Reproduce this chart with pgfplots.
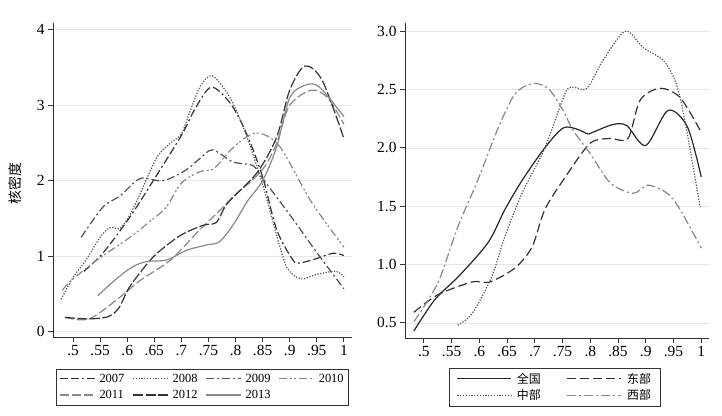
\documentclass[border=0pt]{standalone}
\usepackage{fontspec}
\setmainfont{Liberation Serif}
\newfontfamily\cjk{Noto Sans CJK SC}
\usepackage{pgfplots}
\pgfplotsset{compat=1.18}

\definecolor{axc}{HTML}{333333}
\definecolor{gridc}{HTML}{E6E6E6}
\definecolor{dk}{HTML}{333333}
\definecolor{md}{HTML}{505050}
\definecolor{lt}{HTML}{888888}

\pgfplotsset{
  stata/.style={
    scale only axis,
    axis x line*=bottom, axis y line*=left,
    axis line style={axc, line width=0.8bp, -},
    tick align=outside, major tick length=5bp,
    tick style={axc, line width=0.8bp},
    ymajorgrids, grid style={gridc, line width=0.6bp},
    xtick={0.5,0.55,0.6,0.65,0.7,0.75,0.8,0.85,0.9,0.95,1},
    xticklabels={.5,.55,.6,.65,.7,.75,.8,.85,.9,.95,1},
    ticklabel style={font=\fontsize{15.5}{16}\selectfont},
    /pgf/number format/assume math mode=true,
    legend cell align=left,
    legend style={draw=axc, line width=0.8bp, font=\fontsize{12.5}{13}\selectfont,
      inner ysep=3bp, row sep=2.5bp},
    every axis plot/.append style={line width=1.2bp, smooth, tension=0.5},
  },
}

\begin{document}
\begin{tikzpicture}
\useasboundingbox (0bp,0bp) rectangle (722bp,416bp);

% left panel: 2007-2013
\begin{axis}[stata,
  at={(53bp,79bp)}, anchor=south west, width=299bp, height=314bp,
  xmin=0.463, xmax=1.015, ymin=-0.07, ymax=4.09,
  ytick={0,1,2,3,4}, yticklabels={0,1,2,3,4},
  ylabel={\cjk 核密度},
  ylabel style={font=\fontsize{14}{14}\selectfont, at={(axis description cs:-0.127,0.49)}, anchor=center},
  legend columns=4,
  legend image code/.code={\draw[#1] (0bp,0bp) -- (35bp,0bp);},
  legend style={at={(axis description cs:0.5,-0.159)}, anchor=center, inner xsep=3bp,
    /tikz/every odd column/.append style={column sep=2bp},
    /tikz/every even column/.append style={column sep=6bp}},
]
\addplot[dk, dash pattern=on 8bp off 3bp on 8bp off 3bp on 2bp off 3bp] coordinates {
 (0.52,0.80) (0.555,1.04) (0.605,1.52) (0.648,2.0) (0.70,2.6) (0.725,2.95) (0.755,3.24)
 (0.79,3.03) (0.82,2.63) (0.85,2.05) (0.876,1.35) (0.906,0.95) (0.918,0.91) (0.95,0.97)
 (0.98,1.04) (1.0,1.01)};
\addlegendentry{2007}
\addplot[md, dash pattern=on 1.2bp off 1.6bp] coordinates {
 (0.478,0.43) (0.50,0.72) (0.524,0.95) (0.55,1.25) (0.568,1.38) (0.587,1.37) (0.605,1.55)
 (0.624,1.83) (0.654,2.3) (0.68,2.5) (0.70,2.62) (0.715,2.9) (0.735,3.25) (0.757,3.39)
 (0.79,3.1) (0.82,2.6) (0.85,1.95) (0.875,1.3) (0.895,0.85) (0.92,0.70) (0.95,0.76)
 (0.985,0.80) (1.0,0.73)};
\addlegendentry{2008}
\addplot[md, dash pattern=on 8bp off 3bp on 2bp off 3bp] coordinates {
 (0.515,1.25) (0.555,1.65) (0.587,1.80) (0.624,2.03) (0.666,2.0) (0.708,2.14) (0.735,2.3)
 (0.758,2.41) (0.795,2.25) (0.832,2.2) (0.85,2.03) (0.9,1.55) (0.95,1.05) (1.0,0.57)};
\addlegendentry{2009}
\addplot[lt, dash pattern=on 8bp off 3bp on 2bp off 2bp on 2bp off 3bp] coordinates {
 (0.48,0.55) (0.50,0.70) (0.55,0.98) (0.605,1.25) (0.64,1.45) (0.672,1.65) (0.70,1.97)
 (0.734,2.12) (0.76,2.16) (0.79,2.4) (0.82,2.58) (0.845,2.63) (0.882,2.45) (0.94,1.72)
 (1.0,1.12)};
\addlegendentry{2010}
\addplot[lt, dash pattern=on 9bp off 3bp] coordinates {
 (0.485,0.19) (0.53,0.17) (0.587,0.46) (0.624,0.68) (0.68,0.95) (0.734,1.35) (0.77,1.6)
 (0.80,1.82) (0.83,2.0) (0.855,2.2) (0.876,2.5) (0.9,3.0) (0.94,3.2) (0.97,3.1) (1.0,2.75)};
\addlegendentry{2011}
\addplot[dk, dash pattern=on 10bp off 2.5bp] coordinates {
 (0.485,0.19) (0.53,0.17) (0.565,0.2) (0.585,0.32) (0.605,0.6) (0.648,0.99) (0.697,1.27)
 (0.74,1.41) (0.765,1.45) (0.785,1.7) (0.84,2.11) (0.876,2.58) (0.9,3.2) (0.928,3.52)
 (0.96,3.33) (1.0,2.56)};
\addlegendentry{2012}
\addplot[lt] coordinates {
 (0.546,0.48) (0.58,0.7) (0.61,0.86) (0.636,0.93) (0.673,0.95) (0.71,1.08) (0.747,1.15)
 (0.77,1.19) (0.795,1.41) (0.823,1.74) (0.85,2.0) (0.876,2.45) (0.9,3.1) (0.93,3.27)
 (0.955,3.24) (1.0,2.85)};
\addlegendentry{2013}
\end{axis}

% right panel: regions
\begin{axis}[stata,
  at={(405bp,78bp)}, anchor=south west, width=304bp, height=315bp,
  xmin=0.466, xmax=1.014, ymin=0.37, ymax=3.07,
  ytick={0.5,1,1.5,2,2.5,3}, yticklabels={0.5,1.0,1.5,2.0,2.5,3.0},
  legend columns=2,
  legend image code/.code={\draw[#1] (0bp,0bp) -- (54bp,0bp);},
  legend style={at={(axis description cs:0.493,-0.156)}, anchor=center, inner xsep=7bp,
    font=\fontsize{12}{13}\selectfont\cjk, row sep=1bp,
    /tikz/every odd column/.append style={column sep=3bp},
    /tikz/every even column/.append style={column sep=24bp}},
]
\addplot[black!85] coordinates {
 (0.482,0.43) (0.52,0.70) (0.565,0.91) (0.616,1.19) (0.646,1.47) (0.677,1.72) (0.718,2.0)
 (0.751,2.17) (0.776,2.16) (0.795,2.12) (0.803,2.13) (0.841,2.20) (0.866,2.19) (0.9,2.02)
 (0.94,2.32) (0.975,2.18) (1.0,1.75)};
\addlegendentry{全国}
\addplot[dk, dash pattern=on 9bp off 4bp] coordinates {
 (0.482,0.59) (0.525,0.74) (0.587,0.85) (0.619,0.85) (0.664,0.97) (0.695,1.15) (0.718,1.47)
 (0.755,1.75) (0.8,2.04) (0.836,2.08) (0.868,2.08) (0.89,2.41) (0.926,2.51) (0.962,2.43)
 (0.998,2.15)};
\addlegendentry{东部}
\addplot[md, dash pattern=on 1.2bp off 1.6bp] coordinates {
 (0.561,0.48) (0.587,0.58) (0.622,0.89) (0.646,1.24) (0.677,1.61) (0.718,2.0) (0.755,2.47)
 (0.769,2.52) (0.794,2.51) (0.823,2.75) (0.863,3.0) (0.895,2.86) (0.935,2.73) (0.962,2.43)
 (0.998,1.49)};
\addlegendentry{中部}
\addplot[lt, dash pattern=on 9bp off 3bp on 2bp off 3bp] coordinates {
 (0.482,0.51) (0.525,0.84) (0.561,1.32) (0.597,1.72) (0.634,2.17) (0.664,2.46) (0.695,2.55)
 (0.724,2.51) (0.751,2.32) (0.769,2.15) (0.8,1.95) (0.836,1.70) (0.877,1.61) (0.904,1.68)
 (0.939,1.61) (0.962,1.47) (1.0,1.14)};
\addlegendentry{西部}
\end{axis}
\end{tikzpicture}
\end{document}
